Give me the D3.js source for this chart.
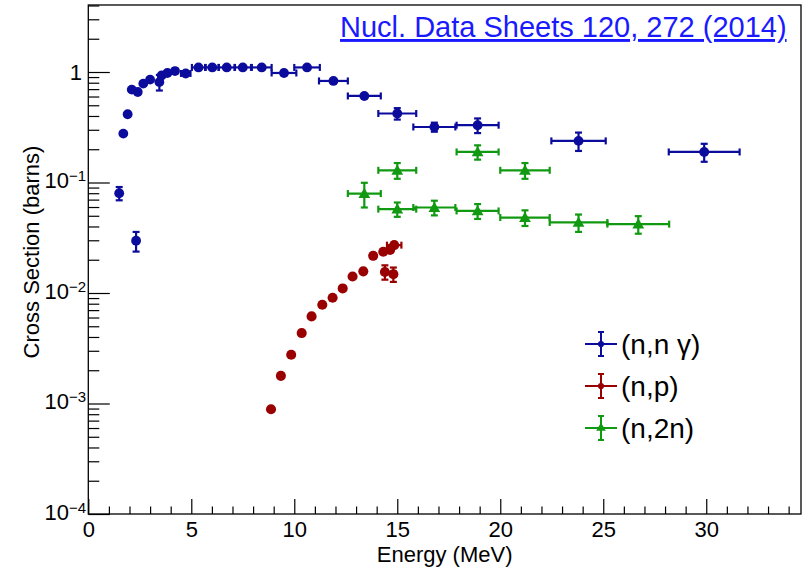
<!DOCTYPE html>
<html lang="en">
<head>
<meta charset="UTF-8" />
<title>cross sections</title>
<style>
  body { margin: 0; background: #fff; font-family: "Liberation Sans", Helvetica, Arial, sans-serif; }
  svg { display: block; }
  .tick-label { font-size: 22px; fill: #000; }
  .axis-title { font-size: 22px; fill: #000; }
  .legend-label { font-size: 28px; fill: #000; }
  .ref { font-size: 29px; fill: #1a1aff; text-decoration: underline; }
</style>
</head>
<body>
<script src="https://cdn.jsdelivr.net/npm/d3@7"></script>
<script>
// (n,n gamma)
const nngEnergy = [1.50, 1.70, 1.91, 2.11, 2.32, 2.40, 2.67, 3.00, 3.45, 3.56, 3.84, 4.21, 4.73, 5.35, 6.02, 6.72, 7.50, 8.42, 9.50, 10.62, 11.90, 13.40, 15.00, 16.80, 18.90, 23.80, 29.90];
const nngEnergyErr = [0, 0, 0, 0, 0, 0, 0, 0, 0, 0, 0, 0, 0.23, 0.32, 0.32, 0.40, 0.40, 0.48, 0.60, 0.62, 0.70, 0.80, 0.92, 1.02, 1.02, 1.32, 1.72];
const nngXs = [0.080, 0.277, 0.415, 0.693, 0.0297, 0.659, 0.785, 0.853, 0.81, 0.93, 0.98, 1.02, 0.97, 1.10, 1.10, 1.10, 1.10, 1.10, 0.98, 1.10, 0.83, 0.607, 0.421, 0.318, 0.330, 0.238, 0.189];
const nngXsErr = [0.011, 0.02, 0.02, 0.03, 0.006, 0.03, 0.03, 0.03, 0.13, 0.03, 0.03, 0.03, 0.03, 0.04, 0.04, 0.04, 0.04, 0.04, 0.04, 0.04, 0.04, 0.03, 0.05, 0.03, 0.05, 0.045, 0.035];

// (n,p)
const npEnergy = [8.87, 9.35, 9.85, 10.36, 10.84, 11.36, 11.86, 12.35, 12.83, 13.35, 13.83, 14.32, 14.65, 14.85, 14.40, 14.81];
const npEnergyErr = [0, 0, 0, 0, 0, 0, 0, 0, 0, 0, 0, 0, 0, 0.35, 0, 0];
const npXs = [0.000887, 0.00178, 0.00276, 0.00434, 0.00614, 0.00782, 0.00905, 0.0110, 0.0141, 0.0157, 0.0217, 0.0236, 0.0245, 0.0271, 0.0155, 0.0148];
const npXsErr = [0.00006, 0.0001, 0.0001, 0.0002, 0.0002, 0.0003, 0.0003, 0.0004, 0.0005, 0.0005, 0.0007, 0.0008, 0.0008, 0.0009, 0.0023, 0.0022];

// (n,2n)
const n2nEnergy = [13.40, 15.00, 15.00, 16.80, 18.90, 18.90, 21.20, 21.20, 23.80, 26.70];
const n2nEnergyErr = [0.80, 0.92, 0.92, 1.02, 1.02, 1.02, 1.20, 1.20, 1.40, 1.50];
const n2nXs = [0.0794, 0.129, 0.0574, 0.0594, 0.189, 0.0553, 0.129, 0.0482, 0.0435, 0.042];
const n2nXsErr = [0.020, 0.021, 0.0085, 0.009, 0.028, 0.0085, 0.021, 0.0078, 0.0078, 0.0076];

const xMajor = [0, 5, 10, 15, 20, 25, 30];
const yMajor = [1e-4, 1e-3, 1e-2, 1e-1, 1];
const yMajorLabels = [["10", "\u22124"], ["10", "\u22123"], ["10", "\u22122"], ["10", "\u22121"], ["1", ""]];

const seriesNames = ["(n,n \u03b3)", "(n,p)", "(n,2n)"];
const seriesColors = ["#0c0c9c", "#990000", "#119911"];

const width = 806, height = 568;
const plotLeft = 88.3, plotRight = 801, plotTop = 5, plotBottom = 514;

const svg = d3.select("body").append("svg")
  .attr("width", width)
  .attr("height", height);

const x = d3.scaleLinear().domain([0, 34.6]).range([plotLeft, plotRight]);
const y = d3.scaleLog().domain([1e-4, 4.04]).range([plotBottom, plotTop]);

// minor tick values
const xMinor = d3.range(1, 35).filter(v => v % 5 !== 0);
const yMinor = [];
for (let d = -4; d <= 0; d++) {
  for (let k = 2; k <= 9; k++) {
    const v = k * Math.pow(10, d);
    if (v < 4.04) yMinor.push(v);
  }
}

// x axis
svg.append("g")
  .attr("transform", `translate(0,${plotBottom})`)
  .call(d3.axisBottom(x).tickValues(xMajor).tickSize(-15).tickPadding(7).tickFormat(d3.format("d")))
  .call(g => g.select(".domain").remove())
  .call(g => g.selectAll("line").attr("stroke", "#000").attr("stroke-width", 1.2))
  .call(g => g.selectAll("text").attr("class", "tick-label"))
  .attr("font-family", null).attr("font-size", null);
svg.append("g")
  .attr("transform", `translate(0,${plotBottom})`)
  .call(d3.axisBottom(x).tickValues(xMinor).tickSize(-7.5).tickFormat(""))
  .call(g => g.select(".domain").remove())
  .call(g => g.selectAll("line").attr("stroke", "#000").attr("stroke-width", 1.2));

// y axis
svg.append("g")
  .attr("transform", `translate(${plotLeft},0)`)
  .call(d3.axisLeft(y).tickValues(yMajor).tickSize(-21.5).tickFormat(""))
  .call(g => g.select(".domain").remove())
  .call(g => g.selectAll("line").attr("stroke", "#000").attr("stroke-width", 1.2));
svg.append("g")
  .attr("transform", `translate(${plotLeft},0)`)
  .call(d3.axisLeft(y).tickValues(yMinor).tickSize(-11).tickFormat(""))
  .call(g => g.select(".domain").remove())
  .call(g => g.selectAll("line").attr("stroke", "#000").attr("stroke-width", 1.2));

const yLab = svg.append("g").attr("class", "tick-label");
yMajor.forEach((v, i) => {
  const t = yLab.append("text")
    .attr("x", yMajorLabels[i][1] ? 86 : 82)
    .attr("y", y(v))
    .attr("dy", yMajorLabels[i][1] ? "0.25em" : "0.36em")
    .attr("text-anchor", "end");
  t.append("tspan").text(yMajorLabels[i][0]);
  if (yMajorLabels[i][1]) {
    t.append("tspan").attr("dy", "-0.45em").attr("font-size", "15px").text(yMajorLabels[i][1]);
  }
});

// frame
svg.append("rect")
  .attr("x", plotLeft).attr("y", plotTop)
  .attr("width", plotRight - plotLeft).attr("height", plotBottom - plotTop)
  .attr("fill", "none").attr("stroke", "#000").attr("stroke-width", 1.3);

// axis titles
svg.append("text")
  .attr("class", "axis-title")
  .attr("x", (plotLeft + plotRight) / 2).attr("y", 562)
  .attr("text-anchor", "middle")
  .text("Energy (MeV)");
svg.append("text")
  .attr("class", "axis-title")
  .attr("font-size", "25px")
  .attr("transform", "translate(39,252) rotate(-90)")
  .attr("text-anchor", "middle")
  .text("Cross Section (barns)");

// reference
svg.append("text")
  .attr("class", "ref")
  .attr("x", 340).attr("y", 37)
  .text("Nucl. Data Sheets 120, 272 (2014)");

// data
const cap = 3.5;
function drawSeries(E, dE, S, dS, color, shape, markerSize) {
  const pts = E.map((e, i) => ({ e, de: dE[i], s: S[i], ds: dS[i] }));
  const g = svg.append("g").attr("stroke", color).attr("fill", color).attr("stroke-width", 2.2);
  pts.forEach(p => {
    const cx = x(p.e), cy = y(p.s);
    if (p.de > 0) {
      const x0 = x(p.e - p.de), x1 = x(p.e + p.de);
      g.append("line").attr("x1", x0).attr("x2", x1).attr("y1", cy).attr("y2", cy);
      g.append("line").attr("x1", x0).attr("x2", x0).attr("y1", cy - cap).attr("y2", cy + cap);
      g.append("line").attr("x1", x1).attr("x2", x1).attr("y1", cy - cap).attr("y2", cy + cap);
    }
    const y0 = y(p.s + p.ds), y1 = y(Math.max(p.s - p.ds, 1e-6));
    if (y1 - y0 > 9) {
      g.append("line").attr("x1", cx).attr("x2", cx).attr("y1", y0).attr("y2", y1);
      g.append("line").attr("x1", cx - cap).attr("x2", cx + cap).attr("y1", y0).attr("y2", y0);
      g.append("line").attr("x1", cx - cap).attr("x2", cx + cap).attr("y1", y1).attr("y2", y1);
    }
  });
  g.selectAll("path.marker").data(pts).join("path")
    .attr("class", "marker")
    .attr("stroke", "none")
    .attr("transform", d => `translate(${x(d.e)},${y(d.s) + (shape === d3.symbolTriangle ? 1 : 0)})`)
    .attr("d", d3.symbol().type(shape).size(markerSize));
}

drawSeries(nngEnergy, nngEnergyErr, nngXs, nngXsErr, seriesColors[0], d3.symbolCircle, 76);
drawSeries(npEnergy, npEnergyErr, npXs, npXsErr, seriesColors[1], d3.symbolCircle, 80);
drawSeries(n2nEnergy, n2nEnergyErr, n2nXs, n2nXsErr, seriesColors[2], d3.symbolTriangle, 60);

// legend
const legendShapes = [d3.symbolCircle, d3.symbolCircle, d3.symbolTriangle];
const legendY = [344, 386, 428];
const leg = svg.append("g");
seriesNames.forEach((name, i) => {
  const g = leg.append("g").attr("stroke", seriesColors[i]).attr("fill", seriesColors[i]).attr("stroke-width", 2);
  const cy = legendY[i], cx = 601;
  g.append("line").attr("x1", 585).attr("x2", 617).attr("y1", cy).attr("y2", cy);
  g.append("line").attr("x1", cx).attr("x2", cx).attr("y1", cy - 12).attr("y2", cy + 12);
  g.append("line").attr("x1", cx - 3).attr("x2", cx + 3).attr("y1", cy - 12).attr("y2", cy - 12);
  g.append("line").attr("x1", cx - 3).attr("x2", cx + 3).attr("y1", cy + 12).attr("y2", cy + 12);
  g.append("path").attr("stroke", "none")
    .attr("transform", `translate(${cx},${cy})`)
    .attr("d", d3.symbol().type(legendShapes[i]).size(legendShapes[i] === d3.symbolTriangle ? 40 : 30));
  leg.append("text")
    .attr("class", "legend-label")
    .attr("x", 621).attr("y", cy).attr("dy", "0.35em")
    .text(name);
});
</script>
</body>
</html>
